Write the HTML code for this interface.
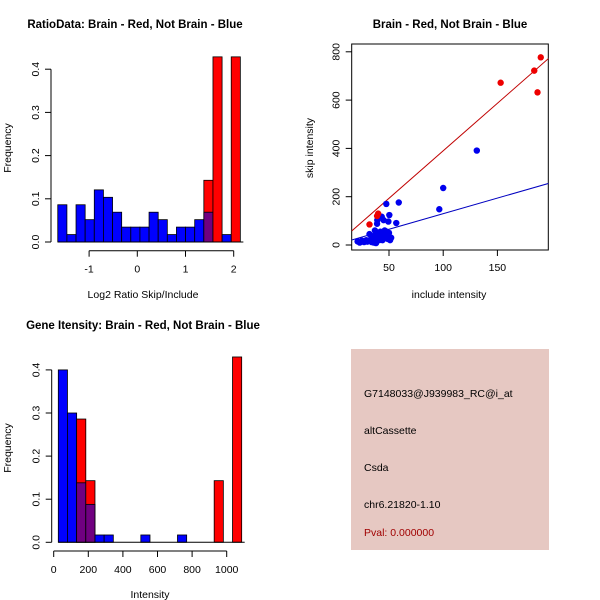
<!DOCTYPE html>
<html><head><meta charset="utf-8"><style>
body{margin:0;background:#fff;}
svg{display:block;font-family:"Liberation Sans",Arial,sans-serif;}
</style></head><body>
<svg id="chart" width="600" height="600" viewBox="0 0 600 600">
<rect width="600" height="600" fill="#fff"/>
<g id="p1"></g>
<g id="p2"></g>
<g id="p3"></g>
<g id="p4">
<rect x="351" y="349" width="198" height="201" fill="#e6c8c2"/>
<text x="364" y="397" font-size="10.5" fill="#000">G7148033@J939983_RC@i_at</text>
<text x="364" y="434" font-size="10.5" fill="#000">altCassette</text>
<text x="364" y="471" font-size="10.5" fill="#000">Csda</text>
<text x="364" y="508" font-size="10.5" fill="#000">chr6.21820-1.10</text>
<text x="364" y="536" font-size="10.5" fill="#a00000">Pval: 0.000000</text>
</g>
</svg>
<script>
// ---- Plot 1 data: ratio histogram ----
const ratioBinStart = -1.65;
const ratioBinWidth = 0.1894;
const ratioBlue = [5/58,1/58,5/58,3/58,7/58,6/58,4/58,2/58,2/58,2/58,4/58,3/58,1/58,2/58,2/58,3/58,4/58,0,1/58,0];
const ratioRed  = [0,0,0,0,0,0,0,0,0,0,0,0,0,0,0,0,1/7,3/7,0,3/7];
const ratioXTicks = [-1,0,1,2];
const freqTicks = [0,0.1,0.2,0.3,0.4];
// ---- Plot 2 data: scatter ----
const redInc  = [32,39,40,153,184,187,190];
const redSkip = [85,120,130,672,722,632,777];
const blueInc  = [47.5,59,131,100,96.4,56.7,50.3,49.4,39.2,39,43.3,45,21,23,25,27,29,30,32,33,34,35,36,37,37,38,39,40,41,42,43,44,45,46,47,48,49,50,51,52,36,38,44,48];
const blueSkip = [170,176,391,236,148,91,124,97,103,88,117,103,15,10,18,12,20,14,45,22,12,35,18,60,40,25,50,30,20,55,40,30,50,60,35,45,25,50,20,30,10,8,20,55];
const redFit = [-3.4,3.935];
const blueFit = [0.6,1.29];
const scatXTicks = [50,100,150];
const scatYTicks = [0,200,400,600,800];
// ---- Plot 3 data: intensity histogram ----
const intBinStart = 26.6;
const intBinWidth = 53;
const intBlue = [0.40,0.30,0.138,0.088,0.017,0.017,0,0,0,0.017,0,0,0,0.017,0,0,0,0,0,0];
const intRed  = [0,0,0.286,0.143,0,0,0,0,0,0,0,0,0,0,0,0,0,0.143,0,0.43];
const intXTicks = [0,200,400,600,800,1000];

const NS="http://www.w3.org/2000/svg";
const FS=10.5;
function mk(parent,tag,attrs,name,txt){
  const e=document.createElementNS(NS,tag);
  for(const k in attrs)e.setAttribute(k,attrs[k]);
  
  
  if(txt!==undefined)e.textContent=txt;
  parent.appendChild(e);return e;
}
function fmt(v){return (Math.round(v*10)/10).toFixed(1);}

function histogram(g,cfg){
  const sx=v=>cfg.x0px+(v-cfg.x0)*cfg.kx;
  const sy=v=>cfg.y0px-v*cfg.ky;
  for(let i=0;i<cfg.blue.length;i++){
    const a=cfg.start+i*cfg.w,b=a+cfg.w;
    const bv=cfg.blue[i],rv=cfg.red[i];
    const W=sx(b)-sx(a);
    if(rv>0&&bv>0){
      const top=Math.max(rv,bv),low=Math.min(rv,bv);
      mk(g,'rect',{x:sx(a),y:sy(top),width:W,height:sy(0)-sy(top),fill:rv>=bv?'#ff0000':'#0000ff',stroke:'#000','stroke-width':0.8},'red-bar');
      mk(g,'rect',{x:sx(a),y:sy(low),width:W,height:sy(0)-sy(low),fill:'#700080',stroke:'#000','stroke-width':0.8},'overlap-bar');
    } else if(bv>0){
      mk(g,'rect',{x:sx(a),y:sy(bv),width:W,height:sy(0)-sy(bv),fill:'#0000ff',stroke:'#000','stroke-width':0.8},'blue-bar');
    } else if(rv>0){
      mk(g,'rect',{x:sx(a),y:sy(rv),width:W,height:sy(0)-sy(rv),fill:'#ff0000',stroke:'#000','stroke-width':0.8},'red-bar');
    }
  }
  const lastB=cfg.start+cfg.blue.length*cfg.w;
  mk(g,'line',{x1:sx(cfg.start),x2:sx(lastB)+3,y1:sy(0),y2:sy(0),stroke:'#000'},'baseline');
  const ya=cfg.yax;
  mk(g,'line',{x1:ya,x2:ya,y1:sy(0),y2:sy(0.4),stroke:'#000'},'y-axis');
  freqTicks.forEach(t=>{
    mk(g,'line',{x1:ya-6,x2:ya,y1:sy(t),y2:sy(t),stroke:'#000'},'y-tick');
    mk(g,'text',{x:ya-12,y:sy(t),'font-size':FS,'text-anchor':'middle',transform:`rotate(-90 ${ya-12} ${sy(t)})`},'y-tick-label',fmt(t));
  });
  const xa=cfg.xay;
  mk(g,'line',{x1:sx(cfg.xt[0]),x2:sx(cfg.xt[cfg.xt.length-1]),y1:xa,y2:xa,stroke:'#000'},'x-axis');
  cfg.xt.forEach(t=>{
    mk(g,'line',{x1:sx(t),x2:sx(t),y1:xa,y2:xa+6,stroke:'#000'},'x-tick');
    mk(g,'text',{x:sx(t),y:xa+22,'font-size':FS,'text-anchor':'middle'},'x-tick-label',String(t));
  });
  mk(g,'text',{x:cfg.xlx,y:cfg.xly,'font-size':FS,'text-anchor':'middle'},'x-axis-title',cfg.xlab);
  mk(g,'text',{x:11,y:cfg.ylc,'font-size':FS,'text-anchor':'middle',transform:`rotate(-90 11 ${cfg.ylc})`},'y-axis-title','Frequency');
  mk(g,'text',{x:cfg.tx,y:cfg.ty,'font-size':11.5,'font-weight':'bold','text-anchor':'middle'},'chart-title',cfg.title);
}

histogram(document.getElementById('p1'),{
  x0:0,x0px:137.3,kx:48.2,y0px:242,ky:432,start:ratioBinStart,w:ratioBinWidth,
  blue:ratioBlue,red:ratioRed,yax:51,xay:250.7,xt:ratioXTicks,
  xlab:'Log2 Ratio Skip/Include',xlx:143,xly:298,ylc:148,
  title:'RatioData: Brain - Red, Not Brain - Blue',tx:135,ty:28});
histogram(document.getElementById('p3'),{
  x0:0,x0px:53.7,kx:0.173,y0px:542.3,ky:431,start:intBinStart,w:intBinWidth,
  blue:intBlue,red:intRed,yax:51.7,xay:551,xt:intXTicks,
  xlab:'Intensity',xlx:150,xly:598,ylc:448,
  title:'Gene Itensity: Brain - Red, Not Brain - Blue',tx:143,ty:329});

(function(){
  const g=document.getElementById('p2');
  const L=351.7,R=548.3,T=44,B=250;
  const sx=v=>389+(v-50)*1.084;
  const sy=v=>245-v*0.2415;
  mk(g,'rect',{x:L,y:T,width:R-L,height:B-T,fill:'none',stroke:'#000'},'plot-box');
  const cp=mk(g,'clipPath',{id:'c2'},'clip');
  mk(cp,'rect',{x:L,y:T,width:R-L,height:B-T},'clip-rect');
  const xmin=15.6,xmax=197.3;
  [[redFit,'#c00000','red-fit-line'],[blueFit,'#0000c0','blue-fit-line']].forEach(([f,c,n])=>{
    mk(g,'line',{x1:sx(xmin),y1:sy(f[0]+f[1]*xmin),x2:sx(xmax),y2:sy(f[0]+f[1]*xmax),stroke:c,'clip-path':'url(#c2)'},n);
  });
  blueInc.forEach((v,i)=>mk(g,'circle',{cx:sx(v),cy:sy(blueSkip[i]),r:3.2,fill:'#0000ee'},'blue-point'));
  redInc.forEach((v,i)=>mk(g,'circle',{cx:sx(v),cy:sy(redSkip[i]),r:3.2,fill:'#ee0000'},'red-point'));
  scatXTicks.forEach(t=>{
    mk(g,'line',{x1:sx(t),x2:sx(t),y1:B,y2:B+6,stroke:'#000'},'x-tick');
    mk(g,'text',{x:sx(t),y:B+21,'font-size':FS,'text-anchor':'middle'},'x-tick-label',String(t));
  });
  scatYTicks.forEach(t=>{
    mk(g,'line',{x1:L-6,x2:L,y1:sy(t),y2:sy(t),stroke:'#000'},'y-tick');
    mk(g,'text',{x:L-12,y:sy(t),'font-size':FS,'text-anchor':'middle',transform:`rotate(-90 ${L-12} ${sy(t)})`},'y-tick-label',String(t));
  });
  mk(g,'text',{x:449,y:298,'font-size':FS,'text-anchor':'middle'},'x-axis-title','include intensity');
  mk(g,'text',{x:313,y:148,'font-size':FS,'text-anchor':'middle',transform:'rotate(-90 313 148)'},'y-axis-title','skip intensity');
  mk(g,'text',{x:450,y:28,'font-size':11.5,'font-weight':'bold','text-anchor':'middle'},'chart-title','Brain - Red, Not Brain - Blue');
})();
</script>
</body></html>
